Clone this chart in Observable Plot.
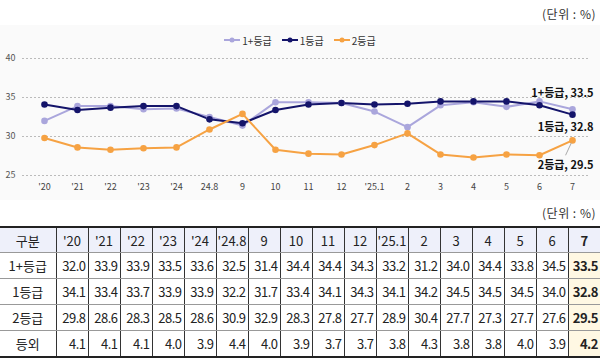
<!DOCTYPE html>
<html><head><meta charset="utf-8">
<script src="https://cdn.jsdelivr.net/npm/d3@7"></script>
<script src="https://cdn.jsdelivr.net/npm/@observablehq/plot@0.6"></script>
<style>
body{margin:0;width:600px;height:363px;position:relative;background:#fff;font-family:"Noto Sans CJK KR","Noto Sans",sans-serif;overflow:hidden}
.unit{position:absolute;right:4px;font-size:12px;color:#333;letter-spacing:0.5px}
#chartbg{position:absolute;left:0;top:25px;width:600px;height:175px;background:#fafafa}
#legend{position:absolute;top:32px;left:0;width:600px;text-align:center;font-size:10px;color:#333}
#legend span.item{display:inline-flex;align-items:center;margin:0 5px}
#legend svg{margin-right:2px}
#plot{position:absolute;left:0;top:50px}
table{position:absolute;left:0;top:226px;width:600px;border-collapse:collapse;table-layout:fixed;font-size:13px;color:#222;border-top:2px solid #222;border-bottom:2px solid #222}
td,th{border-left:1px solid #333;border-right:1px solid #333;border-bottom:1px solid #999;padding:0 2px 0 0;height:25px;font-weight:normal}
th{background:#eef0fa;text-align:center;height:24px;padding:0}
td{text-align:right;letter-spacing:-0.5px}
td.lab{text-align:center;padding:0;letter-spacing:0}
td.hl{background:#fff8e3;font-weight:bold}
th.hl{font-weight:bold}
tr > *:first-child{border-left:none}
tr > *:last-child{border-right:none}
</style></head><body>
<div id="chartbg"></div>
<div class="unit" style="top:5px">(단위 : %)</div>
<div id="legend"></div>
<div id="plot"></div>
<div class="unit" style="top:204px">(단위 : %)</div>
<table id="tbl"></table>
<script>
const chartLabels = ["'20","'21","'22","'23","'24","24.8","9","10","11","12","'25.1","2","3","4","5","6","7"];
const tableLabels = ["'20","'21","'22","'23","'24","'24.8","9","10","11","12","'25.1","2","3","4","5","6","7"];
const seriesNames = ["1+등급","1등급","2등급","등외"];
const s1plus = [32.0,33.9,33.9,33.5,33.6,32.5,31.4,34.4,34.4,34.3,33.2,31.2,34.0,34.4,33.8,34.5,33.5];
const s1 = [34.1,33.4,33.7,33.9,33.9,32.2,31.7,33.4,34.1,34.3,34.1,34.2,34.5,34.5,34.5,34.0,32.8];
const s2 = [29.8,28.6,28.3,28.5,28.6,30.9,32.9,28.3,27.8,27.7,28.9,30.4,27.7,27.3,27.7,27.6,29.5];
const sOut = [4.1,4.1,4.1,4.0,3.9,4.4,4.0,3.9,3.7,3.7,3.8,4.3,3.8,3.8,4.0,3.9,4.2];
const yTicks = [25,30,35,40];
const colors = ["#aaa6dc","#14146a","#f6a243"];

const chartSeries = [s1plus, s1, s2];
const data = [];
chartSeries.forEach((vals, si) => vals.forEach((v, i) => data.push({series: seriesNames[si], label: chartLabels[i], value: v})));
const last = chartSeries.map((vals, si) => ({series: seriesNames[si], label: chartLabels[chartLabels.length-1], value: vals[vals.length-1]}));

// legend
const leg = document.getElementById("legend");
chartSeries.forEach((_, si) => {
  const it = document.createElement("span"); it.className = "item";
  it.innerHTML = `<svg width="16" height="8"><line x1="0" x2="16" y1="4" y2="4" stroke="${colors[si]}" stroke-width="2"/><circle cx="8" cy="4" r="2.5" fill="${colors[si]}"/></svg>${seriesNames[si]}`;
  leg.appendChild(it);
});

const color = {domain: seriesNames.slice(0,3), range: colors};
const plot = Plot.plot({
  width: 600, height: 148,
  marginLeft: 39, marginRight: 23, marginTop: 8, marginBottom: 23,
  style: {background: "transparent", fontFamily: "'Noto Sans CJK KR', sans-serif", fontSize: "9px", color: "#444"},
  x: {type: "point", domain: chartLabels, padding: 0, label: null},
  y: {domain: [25, 40], label: null},
  color,
  marks: [
    Plot.ruleY(yTicks, {y: d => d, stroke: "#bbb", strokeDasharray: "2,2", insetLeft: -17, insetRight: -13}),
    Plot.axisY(yTicks, {tickSize: 0, tickPadding: 24, fontSize: 9, fill: "#555", label: null}),
    Plot.axisX({tickSize: 0, tickPadding: 8, fontSize: 9, fill: "#444", label: null}),
    Plot.line(data, {x: "label", y: "value", z: "series", stroke: "series", strokeWidth: 2}),
    Plot.dot(data, {x: "label", y: "value", fill: "series", r: 3.3}),
    Plot.vector([last[2]], {x: "label", y: "value", length: 16, rotate: 205, anchor: "start", stroke: "#aaa", strokeWidth: 1,
      shape: {draw(ctx, l) { ctx.moveTo(0, -3); ctx.lineTo(0, -l); }}}),
    Plot.text([last[0]], {x: "label", y: "value", text: d => `${d.series}, ${d.value.toFixed(1)}`, dx: 21, dy: -16, textAnchor: "end", fontWeight: "bold", fontSize: 11, fill: "#111"}),
    Plot.text([last[1]], {x: "label", y: "value", text: d => `${d.series}, ${d.value.toFixed(1)}`, dx: 21, dy: 13, textAnchor: "end", fontWeight: "bold", fontSize: 11, fill: "#111"}),
    Plot.text([last[2]], {x: "label", y: "value", text: d => `${d.series}, ${d.value.toFixed(1)}`, dx: 21, dy: 25, textAnchor: "end", fontWeight: "bold", fontSize: 11, fill: "#111"})
  ]
});
document.getElementById("plot").appendChild(plot);

// table
const tbl = document.getElementById("tbl");
const cg = document.createElement("colgroup");
cg.innerHTML = `<col style="width:56px">` + tableLabels.map(() => `<col>`).join("");
tbl.appendChild(cg);
const lastIdx = tableLabels.length - 1;
let html = `<tr><th>구분</th>` + tableLabels.map((l, i) => `<th class="${i===lastIdx?'hl':''}">${l}</th>`).join("") + `</tr>`;
[s1plus, s1, s2, sOut].forEach((vals, si) => {
  html += `<tr><td class="lab">${seriesNames[si]}</td>` + vals.map((v, i) => `<td class="${i===lastIdx?'hl':''}">${v.toFixed(1)}</td>`).join("") + `</tr>`;
});
tbl.insertAdjacentHTML("beforeend", html);
</script>
</body></html>
